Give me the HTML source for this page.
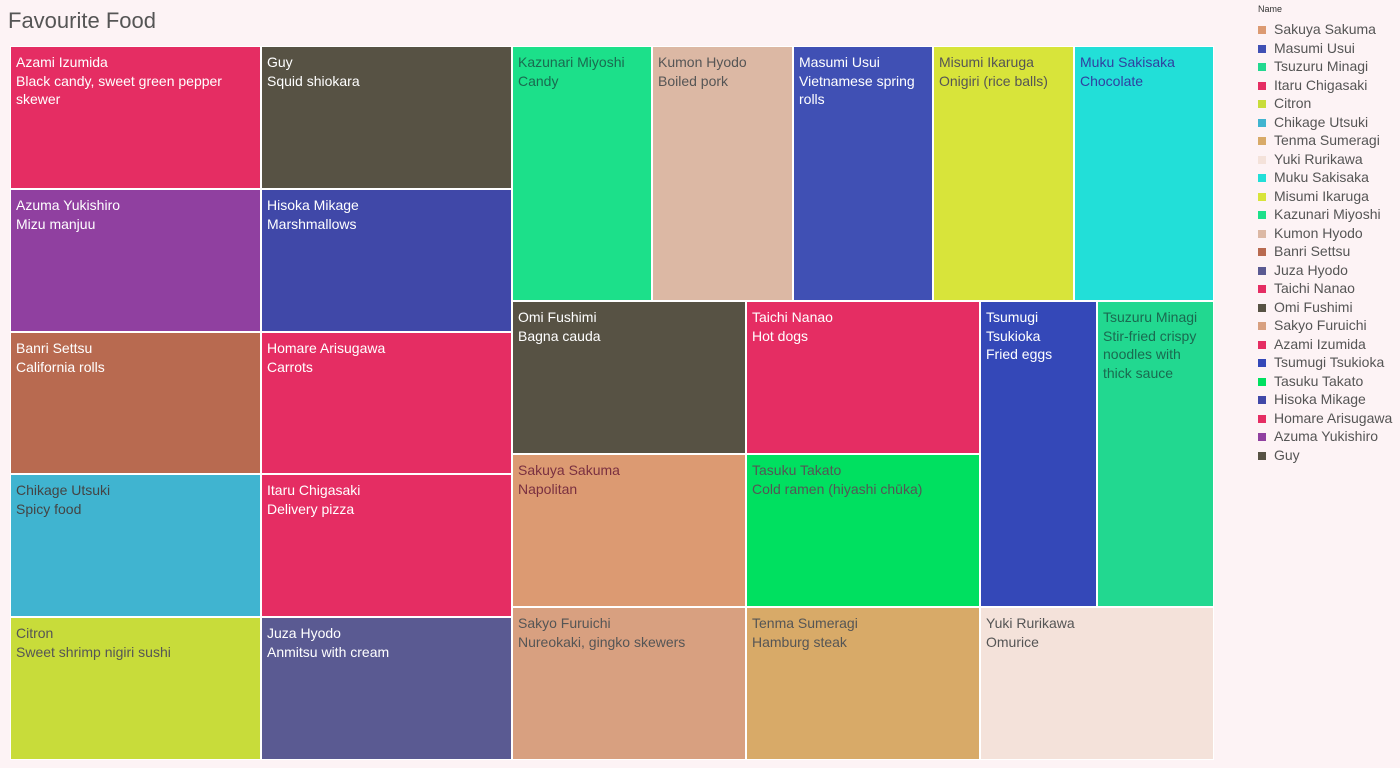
<!DOCTYPE html>
<html><head><meta charset="utf-8">
<style>
body{margin:0;width:1400px;height:768px;background:#fdf3f5;font-family:"Liberation Sans",sans-serif;overflow:hidden;position:relative}
#title{position:absolute;left:8px;top:8px;font-size:22px;color:#555}
.tile{position:absolute;box-sizing:border-box;border:1px solid #fff;font-size:14px;line-height:18.5px;padding:6px 5px;overflow:hidden}
#legend{position:absolute;left:1258px;top:0}
.lt{position:absolute;font-size:9px;color:#333;left:0;top:4px}
.le{position:absolute;left:0;font-size:14px;color:#555;white-space:nowrap}
.sw{display:inline-block;width:8px;height:8px;margin-right:8px;vertical-align:0px}
</style></head><body>
<div id="title">Favourite Food</div>
<div id="chart"></div>
<div id="legend"><div class="lt">Name</div></div>
<script>
const names=["Sakuya Sakuma","Masumi Usui","Tsuzuru Minagi","Itaru Chigasaki","Citron","Chikage Utsuki","Tenma Sumeragi","Yuki Rurikawa","Muku Sakisaka","Misumi Ikaruga","Kazunari Miyoshi","Kumon Hyodo","Banri Settsu","Juza Hyodo","Taichi Nanao","Omi Fushimi","Sakyo Furuichi","Azami Izumida","Tsumugi Tsukioka","Tasuku Takato","Hisoka Mikage","Homare Arisugawa","Azuma Yukishiro","Guy"];
const foods=["Napolitan","Vietnamese spring rolls","Stir-fried crispy noodles with thick sauce","Delivery pizza","Sweet shrimp nigiri sushi","Spicy food","Hamburg steak","Omurice","Chocolate","Onigiri (rice balls)","Candy","Boiled pork","California rolls","Anmitsu with cream","Hot dogs","Bagna cauda","Nureokaki, gingko skewers","Black candy, sweet green pepper skewer","Fried eggs","Cold ramen (hiyashi chūka)","Marshmallows","Carrots","Mizu manjuu","Squid shiokara"];
const values=[1,1,1,1,1,1,1,1,1,1,1,1,1,1,1,1,1,1,1,1,1,1,1,1];
const colors=["#dc9a72","#4050b4","#22d890","#e52d63","#c8dc3a","#40b4d0","#d8aa68","#f4e2da","#22dfd8","#d8e43a","#1ce08a","#dcb8a4","#b86a50","#5a5a92","#e52d63","#575244","#d8a080","#e52d63","#3448b8","#00e060","#4048a8","#e52d63","#9040a0","#575244"];
const textCols=["#7a3040","#fff","#1a6a50","#fff","#555","#444","#555","#555","#3040a0","#555","#1a6a50","#555","#fff","#fff","#fff","#fff","#555","#fff","#fff","#555","#fff","#fff","#fff","#fff"];
const idx=n=>names.indexOf(n);
const tree=["h",[
 ["h",[["v",["Azami Izumida","Azuma Yukishiro","Banri Settsu","Chikage Utsuki","Citron"]],
       ["v",["Guy","Hisoka Mikage","Homare Arisugawa","Itaru Chigasaki","Juza Hyodo"]]]],
 ["v",[["h",["Kazunari Miyoshi","Kumon Hyodo","Masumi Usui","Misumi Ikaruga","Muku Sakisaka"]],
       ["h",[["h",[["v",["Omi Fushimi","Sakuya Sakuma","Sakyo Furuichi"]],["v",["Taichi Nanao","Tasuku Takato","Tenma Sumeragi"]]]],
             ["v",[["h",["Tsumugi Tsukioka","Tsuzuru Minagi"]],"Yuki Rurikawa"]]]]]]]];
const sum=n=>typeof n==="string"?values[idx(n)]:n[1].reduce((a,c)=>a+sum(c),0);
const chart=document.getElementById('chart');
function layout(node,x,y,w,h){
 if(typeof node==="string"){
  const i=idx(node);
  const d=document.createElement('div');d.className='tile';
  
  
  d.style.cssText=`left:${x}px;top:${y}px;width:${w}px;height:${h}px;background:${colors[i]};color:${textCols[i]}`;
  d.innerHTML=names[i]+'<br>'+foods[i];
  chart.appendChild(d);return;
 }
 const tot=sum(node);let off=0;
 node[1].forEach(c=>{const f=sum(c)/tot;
  if(node[0]==="h"){const a=Math.round(x+off*w),b=Math.round(x+(off+f)*w);layout(c,a,y,b-a,h);}
  else{const a=Math.round(y+off*h),b=Math.round(y+(off+f)*h);layout(c,x,a,w,b-a);}
  off+=f;});
}
layout(tree,10,46,1204,714);
const lg=document.getElementById('legend');
names.forEach((n,i)=>{const e=document.createElement('div');e.className='le';
 
 
 e.style.top=(21+i*18.52)+'px';
 e.innerHTML=`<span class="sw" style="background:${colors[i]}"></span>${n}`;lg.appendChild(e);});
</script>
</body></html>
